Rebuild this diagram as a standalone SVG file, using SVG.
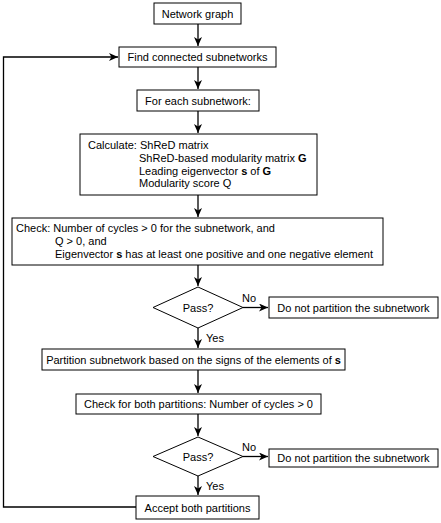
<svg xmlns="http://www.w3.org/2000/svg" width="441" height="523" viewBox="0 0 441 523">
<style>
.box{fill:#fff;stroke:#000;stroke-width:1}
.t{font-family:"Liberation Sans",Arial,sans-serif;font-size:11px;fill:#000}
.c{text-anchor:middle}
.ln{fill:none;stroke:#000;stroke-width:1.3}
</style>
<defs>
<marker id="ah" markerWidth="10" markerHeight="8" refX="9" refY="4" orient="auto" markerUnits="userSpaceOnUse">
<path d="M0,0 L9,4 L0,8 L2.5,4 Z" fill="#000"/>
</marker>
</defs>
<rect width="441" height="523" fill="#fff"/>
<g id="connectors">
<line class="ln" x1="198" y1="24" x2="198" y2="46" marker-end="url(#ah)"/>
<line class="ln" x1="198" y1="67" x2="198" y2="89" marker-end="url(#ah)"/>
<line class="ln" x1="198" y1="111" x2="198" y2="133" marker-end="url(#ah)"/>
<line class="ln" x1="198" y1="195" x2="198" y2="217" marker-end="url(#ah)"/>
<line class="ln" x1="198" y1="265" x2="198" y2="286" marker-end="url(#ah)"/>
<line class="ln" x1="243" y1="307.5" x2="268" y2="307.5" marker-end="url(#ah)"/>
<line class="ln" x1="198" y1="328" x2="198" y2="348" marker-end="url(#ah)"/>
<line class="ln" x1="198" y1="370" x2="198" y2="393" marker-end="url(#ah)"/>
<line class="ln" x1="198" y1="414" x2="198" y2="436" marker-end="url(#ah)"/>
<line class="ln" x1="243" y1="456.5" x2="268" y2="456.5" marker-end="url(#ah)"/>
<line class="ln" x1="198" y1="476" x2="198" y2="495" marker-end="url(#ah)"/>
<polyline class="ln" points="136,507 3.5,507 3.5,57 118,57" marker-end="url(#ah)"/>
<text class="t" x="242" y="302">No</text>
<text class="t" x="206" y="342">Yes</text>
<text class="t" x="242" y="451">No</text>
<text class="t" x="206" y="490">Yes</text>
</g>
<g id="n1">
<rect class="box" x="154" y="3" width="87" height="21"/>
<text class="t c" x="197.5" y="18">Network graph</text>
</g>
<g id="n2">
<rect class="box" x="119" y="47" width="157" height="20"/>
<text class="t c" x="197.5" y="61">Find connected subnetworks</text>
</g>
<g id="n3">
<rect class="box" x="137" y="90" width="122" height="21"/>
<text class="t c" x="198" y="105">For each subnetwork:</text>
</g>
<g id="n4">
<rect class="box" x="80" y="134" width="237" height="61"/>
<text class="t" x="88" y="149">Calculate: ShReD matrix</text>
<text class="t" x="139" y="162">ShReD-based modularity matrix <tspan font-weight="bold">G</tspan></text>
<text class="t" x="139" y="174.5">Leading eigenvector <tspan font-weight="bold">s</tspan> of <tspan font-weight="bold">G</tspan></text>
<text class="t" x="139" y="187">Modularity score Q</text>
</g>
<g id="n5">
<rect class="box" x="12" y="218" width="371" height="47"/>
<text class="t" x="16" y="232">Check: Number of cycles &gt; 0 for the subnetwork, and</text>
<text class="t" x="55" y="245">Q &gt; 0, and</text>
<text class="t" x="55" y="258">Eigenvector <tspan font-weight="bold">s</tspan> has at least one positive and one negative element</text>
</g>
<g id="d1">
<polygon class="box" points="198,287 243,307.5 198,328 153,307.5"/>
<text class="t c" x="198" y="311.5">Pass?</text>
</g>
<g id="n6">
<rect class="box" x="269" y="297" width="169" height="21"/>
<text class="t c" x="353.5" y="312">Do not partition the subnetwork</text>
</g>
<g id="n7">
<rect class="box" x="42" y="349" width="303" height="21"/>
<text class="t c" x="193.5" y="364">Partition subnetwork based on the signs of the elements of <tspan font-weight="bold">s</tspan></text>
</g>
<g id="n8">
<rect class="box" x="76" y="394" width="245" height="20"/>
<text class="t c" x="198.5" y="408">Check for both partitions: Number of cycles &gt; 0</text>
</g>
<g id="d2">
<polygon class="box" points="198,437 243,456.5 198,476 153,456.5"/>
<text class="t c" x="198" y="460.5">Pass?</text>
</g>
<g id="n9">
<rect class="box" x="269" y="449" width="169" height="18"/>
<text class="t c" x="353.5" y="462">Do not partition the subnetwork</text>
</g>
<g id="n10">
<rect class="box" x="136" y="496" width="123" height="23"/>
<text class="t c" x="197.5" y="511.5">Accept both partitions</text>
</g>
</svg>
